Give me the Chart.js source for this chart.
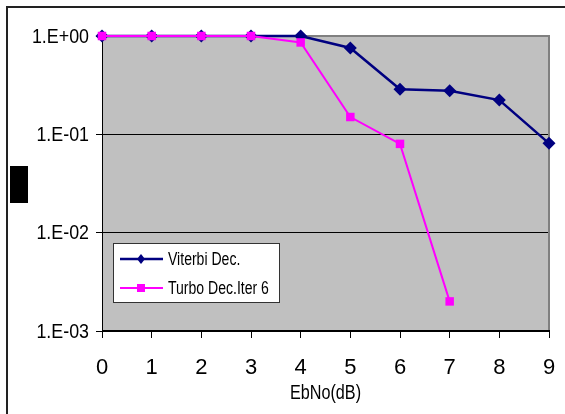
<!DOCTYPE html>
<html>
<head>
<meta charset="utf-8">
<script src="https://cdn.jsdelivr.net/npm/chart.js@4.4.1/dist/chart.umd.min.js"></script>
<style>
  html, body { margin: 0; padding: 0; background: #fff; }
  #wrap { width: 565px; height: 414px; }
</style>
</head>
<body>
<div id="wrap"><canvas id="myChart" width="565" height="414"></canvas></div>
<script>
const ebno = [0, 1, 2, 3, 4, 5, 6, 7, 8, 9];
const viterbi = [1, 1, 1, 1, 1, 0.755, 0.288, 0.278, 0.223, 0.081];
const turbo = [1, 1, 1, 1, 0.86, 0.15, 0.08, 0.002];
const yTickValues = [0.001, 0.01, 0.1, 1];
const yTickLabels = ['1.E-03', '1.E-02', '1.E-01', '1.E+00'];
const xTitle = 'EbNo(dB)';

const FONT = "'Liberation Sans', Arial, sans-serif";

const toPoints = (vals) => vals.map((v, i) => ({ x: ebno[i], y: v }));

// Excel draws its text narrow, so squeeze it sideways
function narrowText(ctx, text, x, y, size, sx, align) {
  ctx.save();
  ctx.font = size + 'px ' + FONT;
  ctx.textAlign = align;
  ctx.textBaseline = 'middle';
  ctx.fillStyle = '#000';
  ctx.translate(x, y);
  ctx.scale(sx, 1);
  ctx.fillText(text, 0, 0);
  ctx.restore();
}

const ctx = document.getElementById('myChart');

const frame = {
  id: 'frame',
  beforeDraw(chart) {
    const { ctx, chartArea: a } = chart;
    ctx.save();
    ctx.fillStyle = '#C0C0C0';
    ctx.fillRect(a.left, a.top, a.right - a.left, a.bottom - a.top);
    // outer frame (only top and left visible)
    ctx.strokeStyle = '#222';
    ctx.lineWidth = 2;
    ctx.beginPath();
    ctx.moveTo(7, 414);
    ctx.lineTo(7, 7);
    ctx.lineTo(565, 7);
    ctx.stroke();
    // y axis title box
    ctx.fillStyle = '#000';
    ctx.fillRect(10, 166, 18, 37);
    ctx.restore();
  },
  beforeDatasetsDraw(chart) {
    const { ctx, chartArea: a } = chart;
    ctx.save();
    ctx.strokeStyle = '#808080';
    ctx.lineWidth = 2;
    ctx.beginPath();
    ctx.moveTo(a.left, a.top);
    ctx.lineTo(a.right, a.top);
    ctx.lineTo(a.right, a.bottom);
    ctx.stroke();
    ctx.strokeStyle = '#000';
    ctx.lineWidth = 1;
    ctx.beginPath();
    ctx.moveTo(a.left + 0.5, a.top);
    ctx.lineTo(a.left + 0.5, a.bottom);
    ctx.stroke();
    ctx.lineWidth = 2;
    ctx.beginPath();
    ctx.moveTo(a.left, a.bottom);
    ctx.lineTo(a.right + 1, a.bottom);
    ctx.stroke();
    ctx.restore();
  },
  afterDraw(chart) {
    const { ctx, chartArea: a } = chart;
    const yScale = chart.scales.y;

    yTickValues.forEach((v, i) => {
      narrowText(ctx, yTickLabels[i], 89, yScale.getPixelForValue(v) + 1, 21, 0.85, 'right');
    });
    narrowText(ctx, xTitle, (a.left + a.right) / 2, 393, 20, 0.81, 'center');

    const bx = 113, by = 243, bw = 166, bh = 59;
    ctx.save();
    ctx.fillStyle = '#fff';
    ctx.fillRect(bx, by, bw, bh);
    ctx.strokeStyle = '#333';
    ctx.lineWidth = 1;
    ctx.strokeRect(bx + 0.5, by + 0.5, bw, bh);
    const rows = [16, 45];
    chart.data.datasets.forEach((ds, i) => {
      const y = by + rows[i];
      ctx.strokeStyle = ds.borderColor;
      ctx.lineWidth = ds.borderWidth;
      ctx.beginPath();
      ctx.moveTo(bx + 7, y);
      ctx.lineTo(bx + 50, y);
      ctx.stroke();
      ctx.fillStyle = ds.borderColor;
      const cx = bx + 28;
      if (ds.pointStyle === 'rectRot') {
        ctx.beginPath();
        ctx.moveTo(cx, y - 5);
        ctx.lineTo(cx + 4, y);
        ctx.lineTo(cx, y + 5);
        ctx.lineTo(cx - 4, y);
        ctx.closePath();
        ctx.fill();
      } else {
        ctx.fillRect(cx - 4, y - 4, 8, 8);
      }
      narrowText(ctx, ds.label, bx + 55, y + 1, 18, 0.78, 'left');
    });
    ctx.restore();
  }
};

const data = {
  datasets: [
    {
      label: 'Viterbi Dec.',
      data: toPoints(viterbi),
      borderColor: '#000080',
      backgroundColor: '#000080',
      borderWidth: 2.5,
      pointStyle: 'rectRot',
      pointRadius: 6.5,
      pointBorderWidth: 0,
      order: 2,
      clip: false,
    },
    {
      label: 'Turbo Dec.Iter 6',
      data: toPoints(turbo),
      borderColor: '#FF00FF',
      backgroundColor: '#FF00FF',
      borderWidth: 2,
      pointStyle: 'rect',
      pointRadius: 6,
      pointBorderWidth: 0,
      order: 1,
      clip: false,
    },
  ],
};

const options = {
  responsive: false,
  animation: false,
  layout: { padding: { left: 0, top: 36, right: 16, bottom: 0 } },
  plugins: {
    legend: { display: false },
    tooltip: { enabled: false },
  },
  scales: {
    x: {
      type: 'linear',
      min: 0,
      max: 9,
      border: { display: false },
      grid: { drawOnChartArea: false, color: '#000', tickLength: 7, tickWidth: 1 },
      ticks: { stepSize: 1, color: '#000', font: { family: FONT, size: 22 }, padding: 17, maxRotation: 0 },
      afterFit: (s) => { s.height = 83; s.paddingLeft = 0; s.paddingRight = 0; },
    },
    y: {
      type: 'logarithmic',
      min: 0.001,
      max: 1,
      border: { display: false },
      grid: { color: '#000', tickLength: 6, lineWidth: 1 },
      afterBuildTicks: (s) => { s.ticks = yTickValues.map(v => ({ value: v })); },
      ticks: {
        color: 'rgba(0,0,0,0)',
        font: { family: FONT, size: 21 },
        callback: (v) => yTickLabels[yTickValues.indexOf(v)],
      },
      afterFit: (s) => { s.width = 102; s.paddingTop = 0; s.paddingBottom = 0; },
    },
  },
};

const chart = new Chart(ctx, {
  type: 'line',
  data,
  options,
  plugins: [frame],
});
</script>
</body>
</html>
